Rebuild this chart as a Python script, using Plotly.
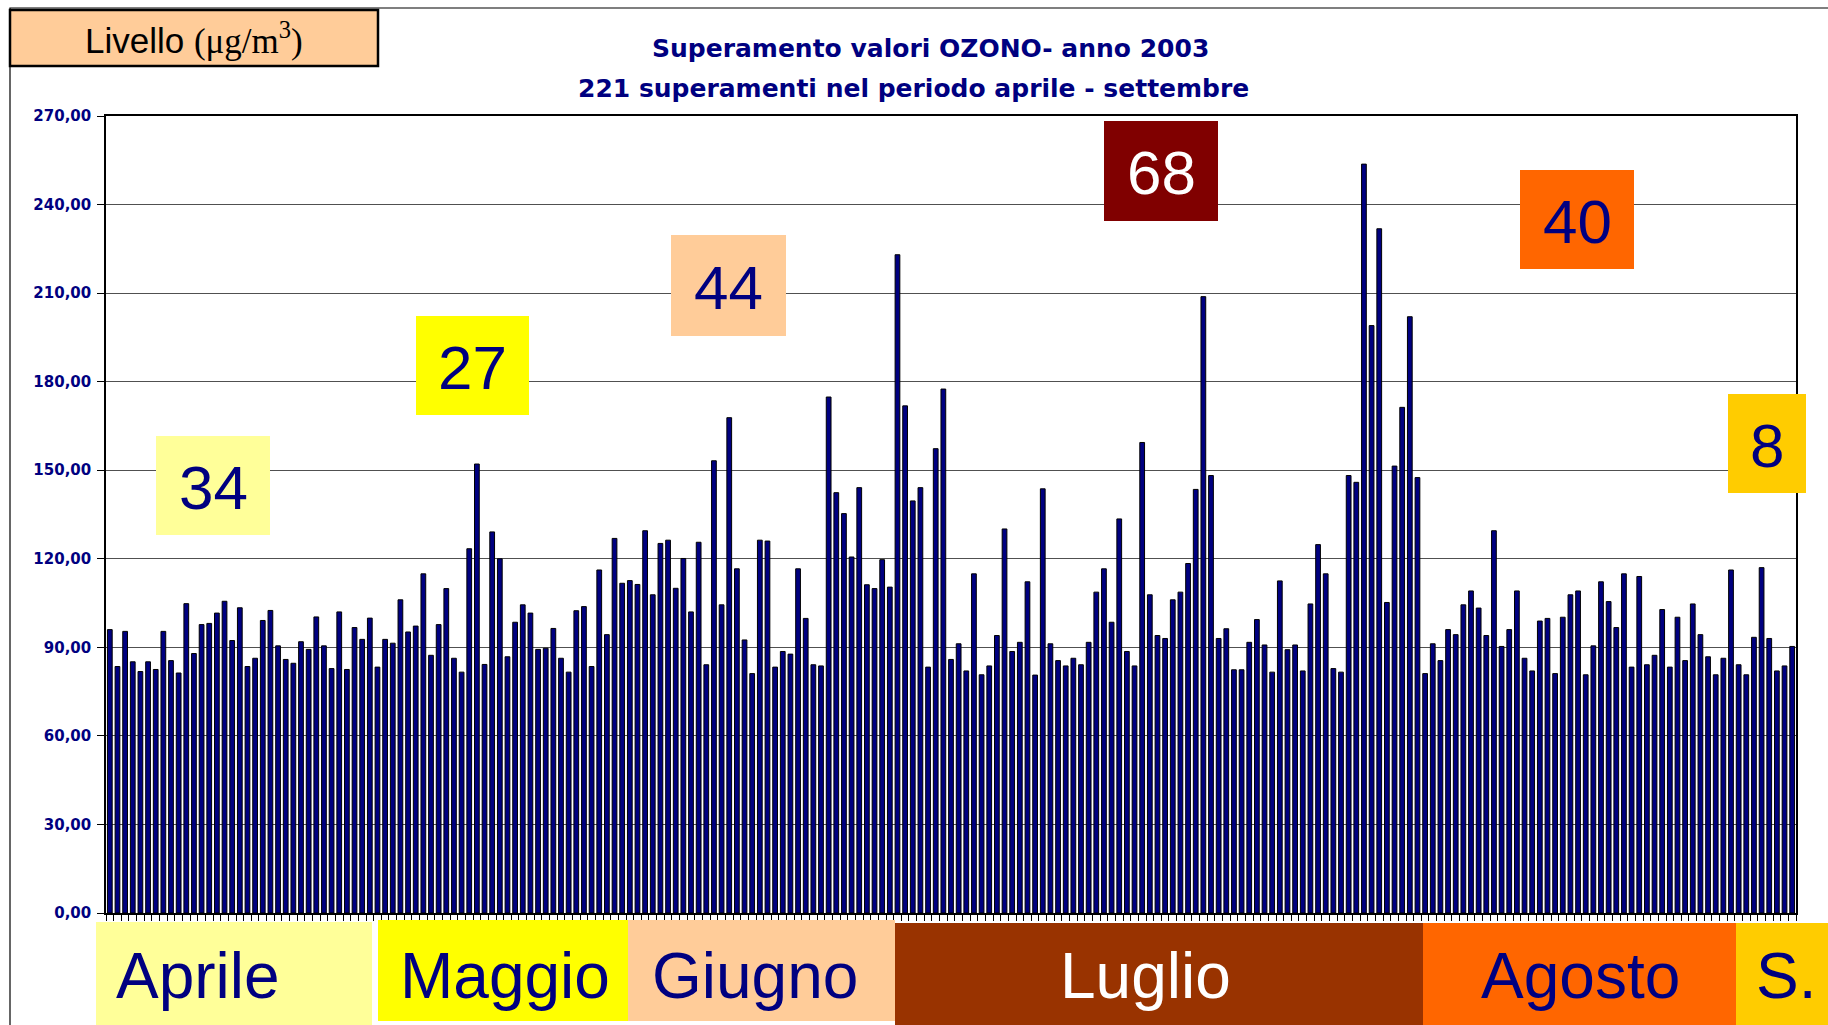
import plotly.graph_objects as go

# ---------------- data ----------------
title_line1 = "Superamento valori OZONO- anno 2003"
title_line2 = "221 superamenti nel periodo aprile - settembre"
unit_label = "Livello"
months = ["Aprile", "Maggio", "Giugno", "Luglio", "Agosto", "S."]
exceedances = [34, 27, 44, 68, 40, 8]
y_ticks = [0, 30, 60, 90, 120, 150, 180, 210, 240, 270]

values = [
    96.0, 83.5, 95.4, 85.1, 81.8, 85.1, 82.5, 95.4, 85.5, 81.3, 104.8, 87.9, 97.7, 98.1,
    101.6, 105.6, 92.3, 103.4, 83.5, 86.3, 99.1, 102.5, 90.5, 85.9, 84.6, 91.9, 89.3, 100.3,
    90.5, 82.8, 102.0, 82.5, 96.7, 92.7, 99.9, 83.3, 92.7, 91.4, 106.1, 95.2, 97.2, 114.9,
    87.3, 97.7, 109.9, 86.3, 81.6, 123.4, 152.1, 84.2, 129.1, 120.0, 86.8, 98.5, 104.4,
    101.6, 89.3, 89.7, 96.4, 86.3, 81.6, 102.4, 103.8, 83.5, 116.2, 94.3, 126.9, 111.7,
    112.6, 111.3, 129.5, 107.8, 125.2, 126.3, 110.0, 120.1, 102.0, 125.6, 84.1, 153.2,
    104.4, 167.8,
    116.6, 92.5, 81.1, 126.3, 126.0, 83.3, 88.6, 87.7, 116.6, 99.8, 84.1, 83.7, 174.8,
    142.4, 135.3, 120.6, 144.1, 111.2, 109.9, 119.7, 110.4, 223.0, 171.8, 139.6, 144.1,
    83.3, 157.3, 177.5,
    85.9, 91.2, 82.0, 114.9, 80.7, 83.7, 94.0, 130.1, 88.6, 91.7, 112.2, 80.6, 143.7, 91.2,
    85.5, 83.7, 86.3, 84.1, 91.7, 108.7, 116.6, 98.5, 133.5, 88.6, 83.7, 159.4, 107.8,
    94.0, 93.0, 106.1, 108.7, 118.4, 143.5, 208.8, 148.2, 93.0, 96.3, 82.4, 82.4, 91.7,
    99.4, 90.8, 81.6, 112.5, 89.2, 90.8, 82.0, 104.7, 124.8, 114.9, 82.8, 81.6, 148.2,
    145.9, 253.7,
    199.0, 231.8, 105.2, 151.4, 171.3, 202.0, 147.5, 81.1, 91.2, 85.5, 96.0, 94.3, 104.4,
    109.1, 103.3, 94.0, 129.5, 90.3, 96.0, 109.1, 86.3, 82.0, 98.9, 99.8, 81.1, 100.2, 107.8,
    109.1, 80.7, 90.5, 112.2, 105.5, 96.7, 114.9, 83.3, 114.0, 84.1, 87.3, 102.8, 83.3,
    100.2, 85.5, 104.7, 94.3, 86.8, 80.7, 86.3, 116.2, 84.1, 80.7, 93.4, 117.0, 93.0, 82.0,
    83.7, 90.3,
]
days = list(range(1, len(values) + 1))

# ---------------- styling / layout geometry ----------------
W, H = 1828, 1025
ML, MR, MT, MB = 106, 32, 116, 112
PW = W - ML - MR
PH = H - MT - MB
NAVY = "#000080"


def px(x):
    return (x - ML) / PW


def py(y):
    return (H - MB - y) / PH


fig = go.Figure()
fig.add_trace(go.Bar(
    x=days, y=values,
    marker=dict(color=NAVY, line=dict(color="black", width=1)),
    hoverinfo="y",
))

shapes = []
annotations = []

# outer frame of the chart object
shapes.append(dict(type="rect", xref="paper", yref="paper",
                   x0=px(10), x1=px(1845), y0=py(8), y1=py(1040),
                   line=dict(color="black", width=1.2), fillcolor="rgba(0,0,0,0)", layer="below"))

# month bands under the axis
band_px = [(96, 372, 922, 1025), (378, 628, 920, 1021), (628, 895, 920, 1021),
           (895, 1423, 923, 1025), (1423, 1736, 923, 1025), (1736, 1830, 923, 1025)]
band_colors = ["#FFFF99", "#FFFF00", "#FFCC99", "#993300", "#FF6600", "#FFCC00"]
band_text_colors = [NAVY, NAVY, NAVY, "white", NAVY, NAVY]
band_text_x = [198, 505, 755, 1145, 1580, 1786]
for (x0, x1, y0, y1), c, tc, tx, name in zip(band_px, band_colors, band_text_colors, band_text_x, months):
    shapes.append(dict(type="rect", xref="paper", yref="paper",
                       x0=px(x0), x1=px(x1), y0=py(y0), y1=py(y1),
                       line=dict(width=0), fillcolor=c, layer="above"))
    annotations.append(dict(xref="paper", yref="paper", x=px(tx), y=py(976),
                            text=name, showarrow=False, xanchor="center", yanchor="middle",
                            font=dict(family="Liberation Sans, Arial", size=64, color=tc)))

# count boxes
box_px = [(156, 270, 436, 535), (416, 529, 316, 415), (671, 786, 235, 336),
          (1104, 1218, 121, 221), (1520, 1634, 170, 269), (1728, 1806, 394, 493)]
box_colors = ["#FFFF99", "#FFFF00", "#FFCC99", "#800000", "#FF6600", "#FFCC00"]
box_text_colors = [NAVY, NAVY, NAVY, "white", NAVY, NAVY]
for (x0, x1, y0, y1), c, tc, n in zip(box_px, box_colors, box_text_colors, exceedances):
    shapes.append(dict(type="rect", xref="paper", yref="paper",
                       x0=px(x0), x1=px(x1), y0=py(y0), y1=py(y1),
                       line=dict(width=0), fillcolor=c, layer="above"))
    annotations.append(dict(xref="paper", yref="paper", x=px((x0 + x1) / 2), y=py((y0 + y1) / 2 + 2),
                            text=str(n), showarrow=False, xanchor="center", yanchor="middle",
                            font=dict(family="Liberation Sans, Arial", size=62, color=tc)))

# unit label box
shapes.append(dict(type="rect", xref="paper", yref="paper",
                   x0=px(10), x1=px(378), y0=py(10), y1=py(66),
                   line=dict(color="black", width=2.5), fillcolor="#FFCC99", layer="above"))
annotations.append(dict(xref="paper", yref="paper", x=px(194), y=py(39),
                        text=unit_label + " <span style='font-family:Liberation Serif, Times New Roman'>(\u03bcg/m<sup>3</sup>)</span>",
                        showarrow=False, xanchor="center", yanchor="middle",
                        font=dict(family="Liberation Sans, Arial", size=35, color="black")))

# titles
annotations.append(dict(xref="paper", yref="paper", x=px(930), y=py(49), text=title_line1,
                        showarrow=False, xanchor="center", yanchor="middle",
                        font=dict(family="DejaVu Sans", size=25, color=NAVY, weight="bold")))
annotations.append(dict(xref="paper", yref="paper", x=px(913), y=py(89), text=title_line2,
                        showarrow=False, xanchor="center", yanchor="middle",
                        font=dict(family="DejaVu Sans", size=25, color=NAVY, weight="bold")))

fig.update_layout(
    width=W, height=H,
    margin=dict(l=ML, r=MR, t=MT, b=MB, pad=0),
    paper_bgcolor="white", plot_bgcolor="white",
    separators=",.",
    showlegend=False,
    bargap=0.38,
    shapes=shapes,
    annotations=annotations,
    xaxis=dict(
        range=[0.5, len(values) + 0.5],
        tickmode="linear", tick0=0.5, dtick=1,
        ticks="outside", ticklen=6, tickwidth=1, tickcolor="black",
        showticklabels=False, showgrid=False, zeroline=False,
        showline=True, linecolor="black", linewidth=1.5, mirror=True,
        fixedrange=True,
    ),
    yaxis=dict(
        range=[0, 270],
        tickmode="array", tickvals=y_ticks, tickformat=".2f",
        ticks="outside", ticklen=7, tickwidth=1, tickcolor="black",
        tickfont=dict(family="DejaVu Sans", size=15, color=NAVY, weight="bold"),
        ticklabelstandoff=3,
        showgrid=True, gridcolor="#505050", gridwidth=1,
        zeroline=False,
        showline=True, linecolor="black", linewidth=1.5, mirror=True,
        fixedrange=True,
    ),
)

fig.write_html(
    "out.html",
    config={"displayModeBar": False},
    post_script="document.body.style.margin='0px';document.body.style.padding='0px';document.body.style.overflow='hidden';",
)
